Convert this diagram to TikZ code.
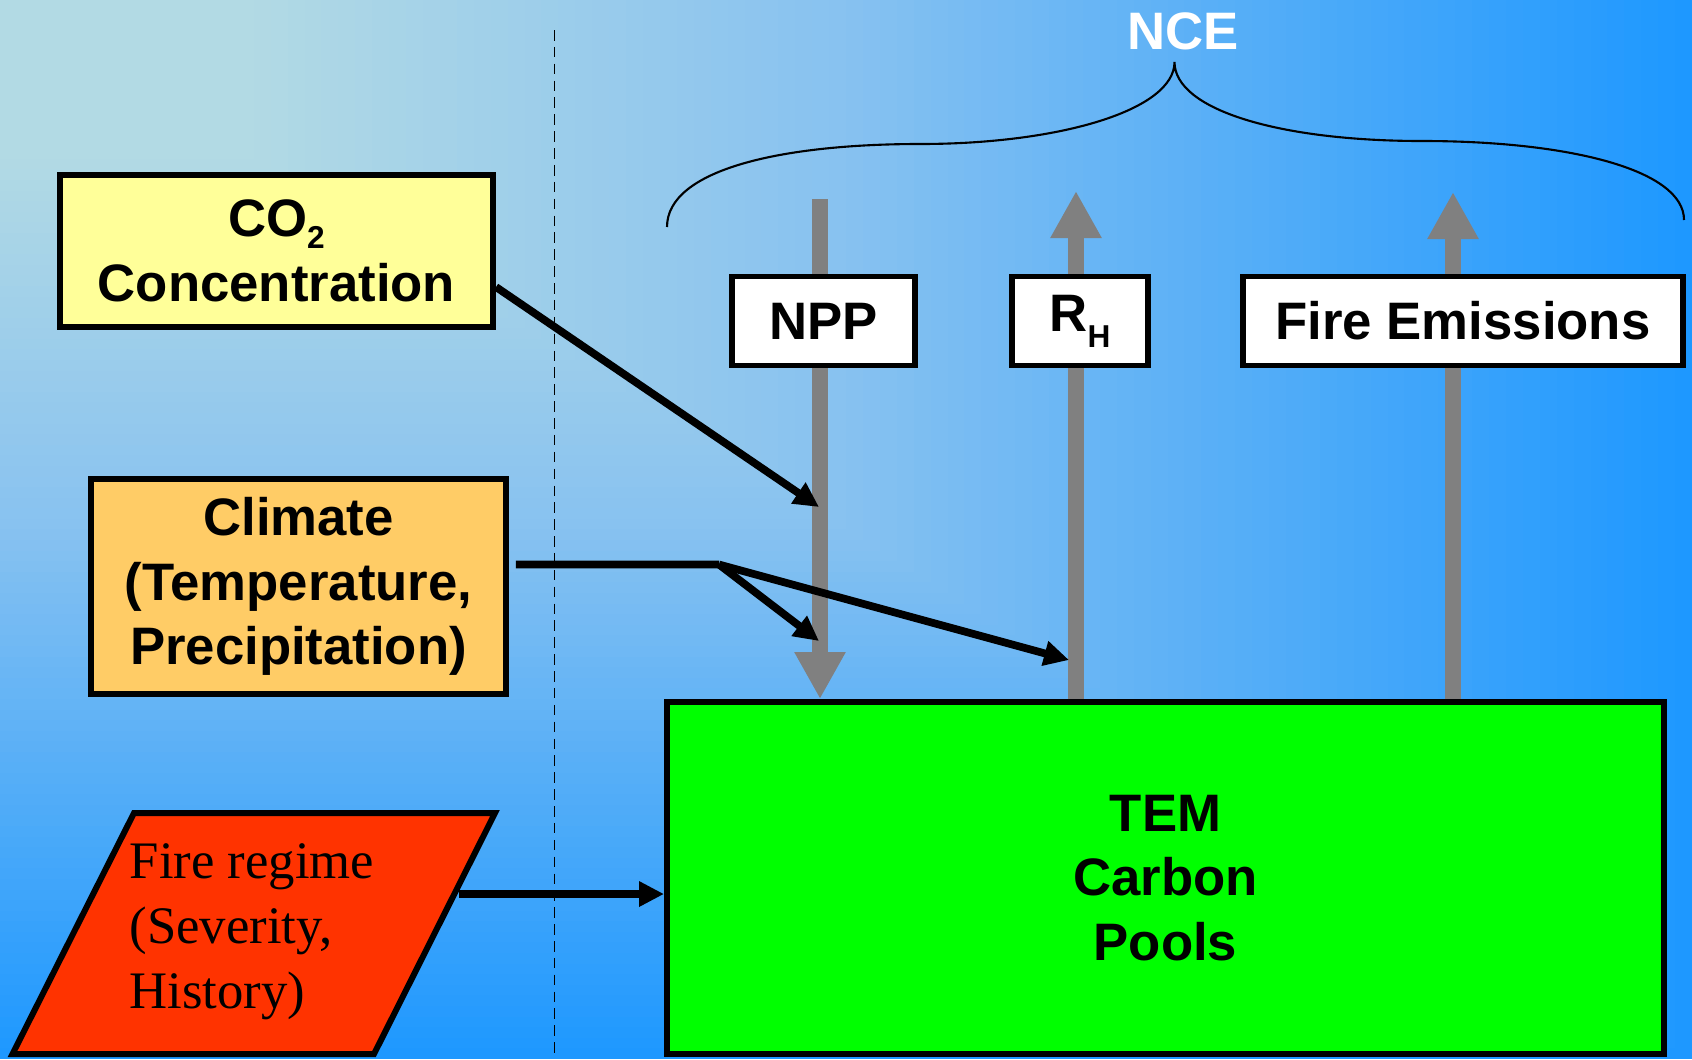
\documentclass[tikz,border=0pt]{standalone}
\usepackage{fontspec}
\setmainfont{Liberation Sans}
\newfontfamily\timesfont{Liberation Serif}
\usetikzlibrary{arrows.meta}
\definecolor{skylight}{RGB}{178,218,228}
\definecolor{skymid}{RGB}{136,194,240}
\definecolor{skydeep}{RGB}{30,152,255}
\definecolor{lemon}{RGB}{255,255,153}
\definecolor{apricot}{RGB}{255,204,102}
\definecolor{ember}{RGB}{255,51,0}
\definecolor{leaf}{RGB}{0,255,0}
\definecolor{ash}{RGB}{128,128,128}
\newcommand{\lowsub}[2][-4pt]{\raisebox{#1}{\fontsize{9}{9}\selectfont #2}}
\tikzset{
    box/.style={draw=black, line width=1.7pt, align=center, inner sep=0pt,
        font=\bfseries\fontsize{15}{18.3}\selectfont},
    driver/.style={box, minimum width=#1},
    flux/.style={box, fill=white, minimum width=#1, minimum height=0.89cm},
    fluxup/.style={draw=ash, line width=4.5pt, -{Triangle[width=4.8mm,length=4.7mm]}},
    fluxdown/.style={draw=ash, line width=4.5pt, -{Triangle[width=4.8mm,length=4.7mm]}},
    forcing/.style={draw=black, line width=2.2pt, -{Triangle[width=2.4mm,length=2.5mm]}},
    forcingnoarrow/.style={draw=black, line width=2.2pt},
    divider/.style={draw=black, line width=0.5pt, dash pattern=on 3pt off 1.8pt},
    curlybrace/.style={draw=black, line width=0.6pt},
}

\begin{document}
\begin{tikzpicture}[x=1cm, y=1cm]
\useasboundingbox (0,0) rectangle (16.92,-10.59);
% glow from the upper left corner
\fill[skydeep] (0,0) rectangle (16.92,-10.59);
\foreach \k in {99,...,50}{
    \pgfmathsetmacro\p{(\k-50)*2}
    \fill[skydeep!\p!skymid] (0,0) rectangle ({\k*0.1692},{-\k*0.1059});
}
\foreach \k in {49,...,15}{
    \pgfmathsetmacro\p{(\k-15)/0.35}
    \fill[skymid!\p!skylight] (0,0) rectangle ({\k*0.1692},{-\k*0.1059});
}

\draw[divider] (5.545,-0.30) -- (5.545,-10.59);

% NCE brace
\node[font=\bfseries\fontsize{15}{18}\selectfont, text=white] (nce) at (11.83,-0.31) {NCE};
\draw[curlybrace] (6.67,-2.27) .. controls (6.67,-1.70) and (7.80,-1.44) .. (9.20,-1.44)
    .. controls (10.60,-1.44) and (11.745,-1.10) .. (11.745,-0.62)
    .. controls (11.745,-1.10) and (12.80,-1.41) .. (14.22,-1.41)
    .. controls (15.70,-1.41) and (16.84,-1.70) .. (16.84,-2.20);

\node[box, fill=leaf, minimum width=9.97cm, minimum height=3.52cm] (tem) at (11.655,-8.78) {TEM\\Carbon\\Pools};

\coordinate (npptop) at (8.20,-1.99);
\coordinate (rhtop) at (10.76,-1.91);
\coordinate (fetop) at (14.53,-1.92);
\draw[fluxdown] (npptop) -- (npptop |- tem.north);
\draw[fluxup] (rhtop |- tem.north) -- (rhtop);
\draw[fluxup] (fetop |- tem.north) -- (fetop);

\node[flux=1.83cm] (npp) at (8.235,-3.21) {NPP};
\node[flux=1.365cm] (rh) at (10.80,-3.21) {R\lowsub[-4.5pt]{H}};
\node[flux=4.40cm] (fe) at (14.63,-3.21) {Fire Emissions};

\node[driver=4.33cm, fill=lemon, minimum height=1.52cm] (co2) at (2.765,-2.51) {CO\lowsub[-3.4pt]{2}\\Concentration};
\node[driver=4.15cm, fill=apricot, minimum height=2.15cm] (climate) at (2.985,-5.865) {Climate\\(Temperature,\\Precipitation)};

\draw[fill=ember, line width=1.7pt] (1.34,-8.13) -- (4.95,-8.13) -- (3.74,-10.54) -- (0.125,-10.54) -- cycle;
\node[anchor=west, align=left, inner sep=0pt, font=\timesfont\fontsize{15}{18.5}\selectfont] (fire) at (1.29,-9.32) {Fire regime\\(Severity,\\History)};

\coordinate (co2in) at (8.19,-5.07);
\coordinate (split) at (7.19,-5.645);
\coordinate (nppin) at (8.19,-6.41);
\coordinate (rhin) at (10.69,-6.60);
\coordinate (firefront) at (4.585,-8.94);

\draw[forcing] ([yshift=-3.6mm]co2.east) -- (co2in);
\draw[forcingnoarrow] ([shift={(0.07,0.22)}]climate.east) -- (split);
\draw[forcing] (split) -- (nppin);
\draw[forcing] (split) -- (rhin);
\draw[forcing] (firefront) -- (firefront -| tem.west);

\end{tikzpicture}
\end{document}
